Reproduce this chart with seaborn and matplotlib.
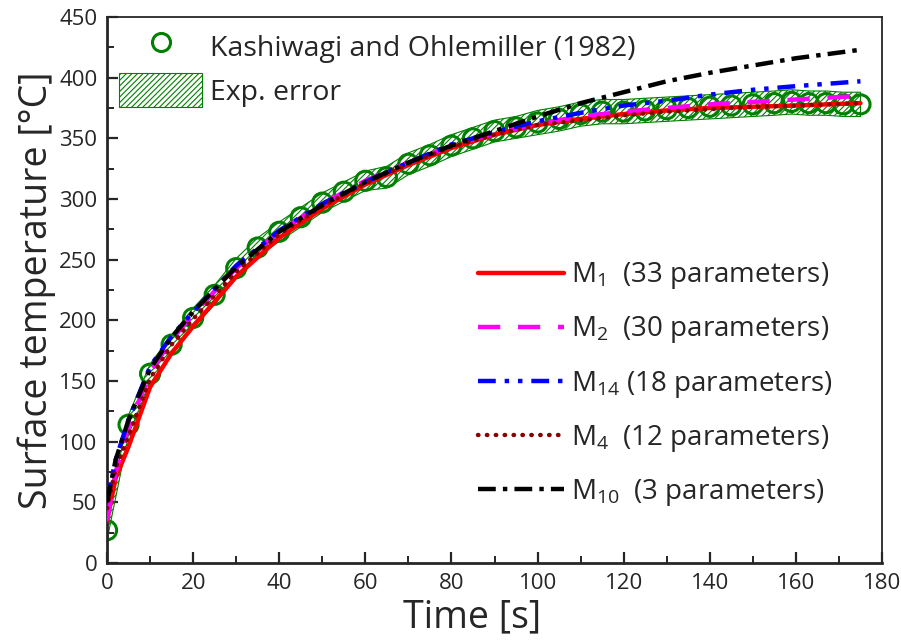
import numpy as np
import pandas as pd
import matplotlib
matplotlib.use("Agg")
import matplotlib.pyplot as plt
from matplotlib.patches import Patch
from matplotlib.lines import Line2D
from matplotlib.legend_handler import HandlerLine2D
from matplotlib.ticker import MultipleLocator
import seaborn as sns

# ---- experimental data ----
exp_time = [0, 5, 10, 15, 20, 25, 30, 35, 40, 45, 50, 55, 60, 65, 70, 75, 80, 85,
            90, 95, 100, 105, 110, 115, 120, 125, 130, 135, 140, 145, 150, 155,
            159, 163, 167, 171, 175]
exp_temp = [27, 114, 156, 180, 202, 221, 243, 260, 273, 285, 297, 306, 315, 318,
            329, 336, 344, 350, 356, 359, 363, 366, 370, 372, 372, 373, 374, 375,
            376, 377, 378, 379, 380, 379, 379, 378, 378]
exp_err = [8, 8, 8, 8, 8, 8, 8, 8, 8, 8, 8, 8, 8, 9, 9, 9, 9, 9,
           9, 9, 10, 10, 10, 10, 10, 10, 10, 10, 10, 10, 10, 10, 10, 10, 10, 10, 10]

# ---- model curves ----
model_time = [0, 2, 5, 10, 15, 20, 30, 40, 50, 60, 70, 80, 90, 100, 110, 120,
              130, 140, 150, 160, 175]
m1 = [35, 70, 96, 145, 173, 195, 236, 268, 292, 312, 328, 342, 353, 361, 366,
      370, 373, 375, 376, 377, 379]
m2 = [35, 75, 112, 157, 184, 205, 243, 273, 296, 315, 330, 344, 354, 362, 368,
      372, 375, 378, 380, 382, 385]
m14 = [52, 85, 118, 162, 187, 207, 245, 274, 296, 314, 330, 345, 355, 364, 371,
       377, 381, 386, 390, 393, 397]
m4 = [45, 78, 105, 152, 180, 201, 240, 271, 294, 313, 329, 343, 353, 361, 365,
      369, 372, 374, 376, 377, 379]
m10 = [50, 85, 118, 160, 186, 207, 244, 273, 295, 314, 330, 344, 356, 368, 379,
       388, 397, 404, 410, 416, 423]

model_labels = [r"M$_{1}$  (33 parameters)", r"M$_{2}$  (30 parameters)",
                r"M$_{14}$ (18 parameters)", r"M$_{4}$  (12 parameters)",
                r"M$_{10}$  (3 parameters)"]
exp_label = "Kashiwagi and Ohlemiller (1982)"
err_label = "Exp. error"

sns.set_style("ticks")
plt.rcParams["font.family"] = ["Open Sans", "DejaVu Sans"]
plt.rcParams["mathtext.fontset"] = "custom"
plt.rcParams["mathtext.rm"] = "Open Sans"
plt.rcParams["mathtext.it"] = "Open Sans"
plt.rcParams["hatch.linewidth"] = 0.8

fig = plt.figure(figsize=(9.01, 6.41), dpi=100)
ax = fig.add_axes([0.1188, 0.1217, 0.8601, 0.8518])

green = "#008000"
t = np.array(exp_time)
T = np.array(exp_temp)
e = np.array(exp_err)
ax.fill_between(t, T - e, T + e, facecolor="none", edgecolor=green,
                hatch="//////", linewidth=0.8, zorder=1)

sns.scatterplot(x=exp_time, y=exp_temp, ax=ax, marker="o", s=190,
                facecolor="none", edgecolor=green, linewidth=2.2, zorder=2,
                legend=False)

styles = [
    dict(color="#ff0000", ls="-", cap="butt"),
    dict(color="#ff00ff", ls=(0, (5, 4)), cap="butt"),
    dict(color="#0000ff", ls=(0, (4, 2, 1, 2, 1, 2)), cap="butt"),
    dict(color="#8b0000", ls=(0, (0.1, 1.9)), cap="round"),
    dict(color="#000000", ls=(0, (4, 1.6, 1, 1.6)), cap="butt"),
]
series = [m1, m2, m14, m4, m10]
handles = []
for vals, st, lab in zip(series, styles, model_labels):
    sns.lineplot(x=model_time, y=vals, ax=ax, color=st["color"], linewidth=3.2,
                 linestyle=st["ls"], dash_capstyle=st["cap"], zorder=3,
                 legend=False)
    handles.append(Line2D([], [], color=st["color"], lw=3.2, ls=st["ls"],
                          dash_capstyle=st["cap"]))

ax.set_xlim(0, 180)
ax.set_ylim(0, 450)
ax.xaxis.set_major_locator(MultipleLocator(20))
ax.xaxis.set_minor_locator(MultipleLocator(10))
ax.yaxis.set_major_locator(MultipleLocator(50))
ax.yaxis.set_minor_locator(MultipleLocator(25))
ax.tick_params(which="major", direction="in", length=8, width=1.6,
               labelsize=16, top=False, right=False, pad=7)
ax.tick_params(which="minor", direction="in", length=5, width=1.4,
               top=False, right=False)
for side in ["left", "bottom"]:
    ax.spines[side].set_linewidth(2.0)
for side in ["top", "right"]:
    ax.spines[side].set_linewidth(1.3)

ax.set_xlabel("Time [s]", fontsize=27)
ax.xaxis.set_label_coords(0.471, -0.065)
ax.set_ylabel("Surface temperature [°C]", fontsize=27, labelpad=2)


class LeftMarker(HandlerLine2D):
    def create_artists(self, legend, orig_handle, xdescent, ydescent, width,
                       height, fontsize, trans):
        arts = super().create_artists(legend, orig_handle, xdescent, ydescent,
                                      width, height, fontsize, trans)
        for a in arts:
            if len(a.get_xdata()) == 1:
                a.set_xdata([-xdescent + 3])
        return arts


h_exp = Line2D([], [], marker="o", ls="none", markersize=13,
               markerfacecolor="none", markeredgecolor=green, markeredgewidth=2.2)
h_err = Patch(facecolor="none", edgecolor=green, hatch="//////", linewidth=0.8)
leg1 = ax.legend([h_exp, h_err], [exp_label, err_label], loc="upper left",
                 bbox_to_anchor=(0.0, 1.0), frameon=False, fontsize=20.5,
                 handlelength=2.9, handleheight=1.45, labelspacing=0.36,
                 handletextpad=0.3, borderaxespad=0.03,
                 handler_map={h_exp: LeftMarker()})
ax.add_artist(leg1)
ax.legend(handles, model_labels, loc="lower left",
          bbox_to_anchor=(0.4645, 0.081), frameon=False, fontsize=20,
          handlelength=3.1, labelspacing=0.83, handletextpad=0.25,
          borderaxespad=0)

fig.savefig("out.png", dpi=100)
